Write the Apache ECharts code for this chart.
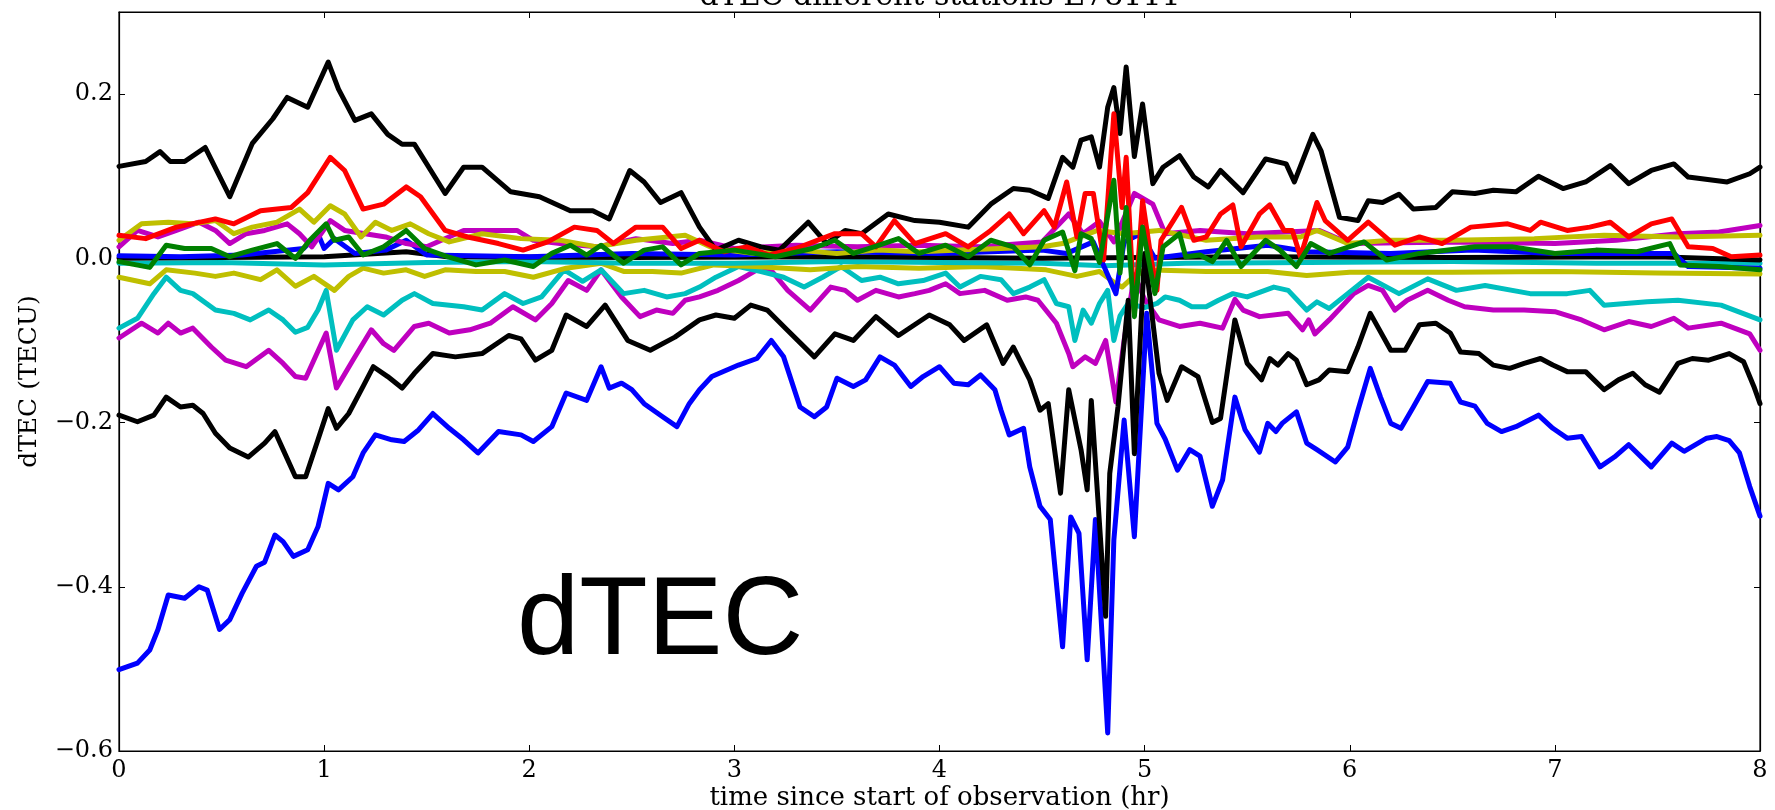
<!DOCTYPE html>
<html>
<head>
<meta charset="utf-8">
<script src="https://cdn.jsdelivr.net/npm/echarts@6/dist/echarts.min.js"></script>
<style>
  html, body { margin: 0; padding: 0; background: #fff; }
  #chart { width: 1775px; height: 810px; }
</style>
</head>
<body>
<div id="chart"></div>
<script>
// time (hr), dTEC (TECU) pairs
var xTicks = [0, 1, 2, 3, 4, 5, 6, 7, 8];
var yTicks = [-0.6, -0.4, -0.2, 0.0, 0.2];

var blueLow = [[0,-0.501],[0.09,-0.493],[0.15,-0.477],[0.19,-0.452],[0.24,-0.41],[0.32,-0.414],[0.39,-0.4],[0.43,-0.404],[0.49,-0.452],[0.54,-0.44],[0.6,-0.408],[0.67,-0.375],[0.71,-0.37],[0.76,-0.337],[0.8,-0.345],[0.85,-0.363],[0.92,-0.355],[0.97,-0.327],[1.02,-0.274],[1.07,-0.282],[1.14,-0.266],[1.19,-0.237],[1.25,-0.215],[1.33,-0.221],[1.39,-0.223],[1.46,-0.209],[1.53,-0.189],[1.61,-0.207],[1.68,-0.221],[1.75,-0.237],[1.85,-0.211],[1.96,-0.215],[2.02,-0.223],[2.11,-0.205],[2.18,-0.164],[2.28,-0.173],[2.35,-0.132],[2.39,-0.158],[2.45,-0.152],[2.5,-0.16],[2.56,-0.177],[2.65,-0.193],[2.72,-0.205],[2.78,-0.177],[2.83,-0.16],[2.89,-0.144],[3.02,-0.13],[3.11,-0.122],[3.18,-0.1],[3.24,-0.12],[3.32,-0.181],[3.39,-0.193],[3.45,-0.181],[3.5,-0.146],[3.58,-0.156],[3.64,-0.148],[3.71,-0.12],[3.78,-0.13],[3.86,-0.156],[3.92,-0.144],[4.0,-0.132],[4.07,-0.152],[4.14,-0.154],[4.2,-0.142],[4.27,-0.16],[4.3,-0.185],[4.34,-0.215],[4.41,-0.207],[4.44,-0.254],[4.49,-0.302],[4.54,-0.318],[4.6,-0.473],[4.64,-0.315],[4.68,-0.335],[4.72,-0.489],[4.76,-0.318],[4.82,-0.578],[4.85,-0.343],[4.9,-0.197],[4.95,-0.339],[5.01,-0.067],[5.06,-0.201],[5.1,-0.22],[5.16,-0.258],[5.22,-0.233],[5.27,-0.241],[5.33,-0.302],[5.38,-0.27],[5.44,-0.169],[5.49,-0.209],[5.56,-0.236],[5.6,-0.201],[5.64,-0.211],[5.67,-0.201],[5.74,-0.187],[5.79,-0.225],[5.84,-0.233],[5.93,-0.248],[5.99,-0.23],[6.04,-0.185],[6.1,-0.134],[6.15,-0.169],[6.2,-0.201],[6.25,-0.207],[6.31,-0.181],[6.38,-0.15],[6.49,-0.152],[6.54,-0.175],[6.61,-0.18],[6.67,-0.201],[6.74,-0.211],[6.81,-0.205],[6.92,-0.191],[6.99,-0.207],[7.06,-0.219],[7.13,-0.217],[7.22,-0.254],[7.29,-0.242],[7.36,-0.227],[7.47,-0.254],[7.57,-0.225],[7.63,-0.235],[7.74,-0.219],[7.79,-0.217],[7.85,-0.222],[7.9,-0.237],[7.95,-0.278],[8.0,-0.314]];

var magentaLow = [[0,-0.097],[0.11,-0.079],[0.19,-0.091],[0.24,-0.079],[0.3,-0.091],[0.36,-0.085],[0.45,-0.108],[0.52,-0.124],[0.62,-0.132],[0.73,-0.112],[0.8,-0.128],[0.86,-0.144],[0.91,-0.146],[1.01,-0.091],[1.06,-0.158],[1.14,-0.124],[1.23,-0.087],[1.29,-0.104],[1.34,-0.112],[1.44,-0.083],[1.51,-0.079],[1.61,-0.091],[1.71,-0.087],[1.81,-0.079],[1.92,-0.059],[2.03,-0.075],[2.11,-0.055],[2.19,-0.027],[2.28,-0.039],[2.35,-0.014],[2.45,-0.047],[2.54,-0.071],[2.62,-0.063],[2.7,-0.067],[2.76,-0.051],[2.83,-0.047],[2.92,-0.039],[3.02,-0.027],[3.11,-0.014],[3.17,-0.012],[3.26,-0.039],[3.37,-0.063],[3.47,-0.035],[3.54,-0.039],[3.6,-0.051],[3.69,-0.039],[3.8,-0.047],[3.88,-0.043],[3.95,-0.039],[4.03,-0.031],[4.1,-0.043],[4.22,-0.039],[4.33,-0.051],[4.42,-0.047],[4.48,-0.051],[4.57,-0.079],[4.63,-0.116],[4.65,-0.132],[4.71,-0.12],[4.76,-0.128],[4.81,-0.1],[4.86,-0.175],[4.9,-0.1],[4.95,-0.02],[5.0,-0.05],[5.07,-0.075],[5.17,-0.083],[5.27,-0.079],[5.38,-0.085],[5.44,-0.05],[5.48,-0.063],[5.56,-0.071],[5.7,-0.067],[5.77,-0.087],[5.8,-0.075],[5.83,-0.092],[5.9,-0.075],[6.02,-0.043],[6.09,-0.033],[6.16,-0.039],[6.22,-0.063],[6.28,-0.051],[6.38,-0.039],[6.48,-0.051],[6.56,-0.059],[6.7,-0.063],[6.85,-0.063],[7.0,-0.065],[7.13,-0.075],[7.24,-0.087],[7.36,-0.077],[7.47,-0.083],[7.58,-0.073],[7.65,-0.085],[7.81,-0.079],[7.95,-0.092],[8.0,-0.112]];

var cyanLow = [[0,-0.085],[0.09,-0.073],[0.17,-0.043],[0.23,-0.023],[0.3,-0.039],[0.36,-0.043],[0.47,-0.063],[0.56,-0.067],[0.64,-0.075],[0.73,-0.063],[0.8,-0.075],[0.86,-0.09],[0.92,-0.084],[0.97,-0.063],[1.01,-0.039],[1.06,-0.112],[1.14,-0.075],[1.21,-0.059],[1.29,-0.069],[1.38,-0.051],[1.44,-0.043],[1.53,-0.055],[1.68,-0.059],[1.77,-0.063],[1.88,-0.043],[1.97,-0.055],[2.06,-0.047],[2.17,-0.014],[2.26,-0.028],[2.35,-0.014],[2.46,-0.043],[2.56,-0.039],[2.67,-0.047],[2.76,-0.043],[2.83,-0.035],[2.91,-0.023],[3.02,-0.01],[3.13,-0.016],[3.24,-0.023],[3.34,-0.035],[3.43,-0.023],[3.52,-0.01],[3.62,-0.027],[3.71,-0.023],[3.8,-0.031],[3.92,-0.027],[4.03,-0.018],[4.1,-0.035],[4.2,-0.022],[4.3,-0.026],[4.36,-0.043],[4.44,-0.035],[4.51,-0.026],[4.57,-0.055],[4.63,-0.059],[4.66,-0.1],[4.7,-0.063],[4.74,-0.079],[4.78,-0.055],[4.82,-0.039],[4.85,-0.1],[4.88,-0.07],[4.92,-0.055],[5.0,-0.06],[5.06,-0.055],[5.1,-0.047],[5.17,-0.051],[5.23,-0.059],[5.3,-0.059],[5.36,-0.051],[5.43,-0.043],[5.5,-0.047],[5.63,-0.035],[5.7,-0.039],[5.79,-0.063],[5.84,-0.053],[5.9,-0.061],[5.99,-0.043],[6.09,-0.023],[6.24,-0.043],[6.38,-0.025],[6.52,-0.039],[6.66,-0.033],[6.88,-0.043],[7.06,-0.043],[7.17,-0.039],[7.24,-0.057],[7.45,-0.053],[7.6,-0.051],[7.81,-0.057],[8.0,-0.075]];

var yellowLow = [[0,-0.023],[0.15,-0.031],[0.23,-0.014],[0.37,-0.018],[0.47,-0.022],[0.56,-0.018],[0.69,-0.026],[0.77,-0.014],[0.86,-0.034],[0.95,-0.022],[1.05,-0.039],[1.12,-0.022],[1.19,-0.012],[1.29,-0.018],[1.4,-0.014],[1.49,-0.022],[1.59,-0.014],[1.74,-0.016],[1.88,-0.016],[2.02,-0.023],[2.18,-0.012],[2.35,-0.006],[2.46,-0.016],[2.6,-0.016],[2.74,-0.018],[2.9,-0.008],[3.1,-0.01],[3.37,-0.014],[3.6,-0.01],[3.9,-0.012],[4.2,-0.01],[4.52,-0.014],[4.67,-0.022],[4.78,-0.016],[4.86,-0.031],[4.89,-0.035],[4.93,-0.026],[5.0,-0.014],[5.3,-0.016],[5.6,-0.016],[5.79,-0.021],[6.0,-0.017],[6.5,-0.017],[7.0,-0.016],[7.5,-0.018],[8.0,-0.019]];

var cyanZero = [[0,-0.006],[0.5,-0.005],[1.0,-0.008],[1.5,-0.005],[2.0,-0.004],[2.5,-0.006],[3.0,-0.006],[3.5,-0.004],[4.0,-0.005],[4.5,-0.006],[4.8,-0.009],[5.2,-0.006],[5.8,-0.005],[6.5,-0.004],[7.2,-0.006],[8.0,-0.006]];

var blackZero = [[0,0.0],[0.5,0.001],[1.0,0.002],[1.4,0.008],[1.6,0.002],[2.5,0.001],[3.5,0.002],[4.5,0.0],[5.5,0.002],[6.5,0.001],[7.5,0.002],[8.0,-0.002]];

var magentaUp = [[0,0.014],[0.09,0.034],[0.19,0.026],[0.28,0.034],[0.39,0.044],[0.47,0.034],[0.54,0.018],[0.62,0.03],[0.71,0.034],[0.82,0.042],[0.88,0.03],[0.94,0.014],[1.03,0.046],[1.1,0.034],[1.2,0.03],[1.3,0.026],[1.4,0.018],[1.5,0.014],[1.68,0.034],[1.8,0.034],[1.94,0.034],[2.02,0.022],[2.15,0.018],[2.33,0.014],[2.52,0.024],[2.7,0.018],[2.83,0.022],[3.0,0.012],[3.3,0.016],[3.6,0.014],[3.9,0.016],[4.2,0.014],[4.5,0.02],[4.63,0.054],[4.7,0.03],[4.78,0.045],[4.85,0.02],[4.95,0.079],[5.04,0.066],[5.1,0.03],[5.27,0.034],[5.5,0.03],[5.85,0.034],[6.0,0.018],[6.5,0.02],[7.0,0.018],[7.3,0.022],[7.6,0.03],[7.8,0.032],[8.0,0.04]];

var yellowUp = [[0,0.022],[0.11,0.042],[0.24,0.044],[0.36,0.042],[0.47,0.046],[0.56,0.03],[0.65,0.038],[0.77,0.044],[0.88,0.06],[0.95,0.044],[1.03,0.064],[1.1,0.054],[1.18,0.026],[1.25,0.044],[1.33,0.034],[1.42,0.042],[1.51,0.03],[1.61,0.02],[1.77,0.03],[1.96,0.024],[2.15,0.022],[2.33,0.014],[2.52,0.022],[2.76,0.028],[2.9,0.012],[3.1,0.006],[3.3,0.01],[3.5,0.006],[3.7,0.01],[3.9,0.008],[4.1,0.01],[4.3,0.012],[4.5,0.014],[4.6,0.018],[4.77,0.034],[4.9,0.03],[5.07,0.034],[5.3,0.022],[5.55,0.026],[5.76,0.026],[5.84,0.034],[5.99,0.018],[6.2,0.022],[6.5,0.022],[6.9,0.024],[7.24,0.028],[7.6,0.026],[8.0,0.028]];

var blackLow = [[0,-0.191],[0.09,-0.199],[0.17,-0.191],[0.23,-0.169],[0.3,-0.181],[0.36,-0.179],[0.41,-0.189],[0.47,-0.213],[0.54,-0.231],[0.63,-0.242],[0.71,-0.225],[0.76,-0.211],[0.8,-0.233],[0.86,-0.266],[0.91,-0.266],[0.97,-0.221],[1.02,-0.183],[1.06,-0.207],[1.12,-0.189],[1.19,-0.156],[1.24,-0.132],[1.31,-0.144],[1.38,-0.158],[1.44,-0.14],[1.53,-0.116],[1.64,-0.12],[1.77,-0.116],[1.9,-0.094],[1.96,-0.098],[2.03,-0.124],[2.11,-0.112],[2.18,-0.069],[2.28,-0.083],[2.37,-0.057],[2.48,-0.1],[2.59,-0.112],[2.71,-0.096],[2.83,-0.075],[2.91,-0.069],[3.0,-0.073],[3.08,-0.057],[3.16,-0.063],[3.26,-0.088],[3.39,-0.12],[3.49,-0.092],[3.58,-0.1],[3.69,-0.071],[3.8,-0.094],[3.95,-0.069],[4.05,-0.081],[4.12,-0.1],[4.23,-0.081],[4.31,-0.128],[4.36,-0.108],[4.44,-0.148],[4.49,-0.185],[4.53,-0.177],[4.59,-0.286],[4.63,-0.16],[4.69,-0.233],[4.72,-0.282],[4.74,-0.173],[4.81,-0.436],[4.83,-0.262],[4.87,-0.181],[4.92,-0.051],[4.95,-0.238],[5.0,0.006],[5.07,-0.14],[5.11,-0.173],[5.18,-0.132],[5.26,-0.144],[5.33,-0.2],[5.37,-0.195],[5.44,-0.075],[5.5,-0.128],[5.57,-0.148],[5.61,-0.122],[5.65,-0.13],[5.7,-0.116],[5.74,-0.124],[5.79,-0.154],[5.85,-0.148],[5.9,-0.136],[5.99,-0.138],[6.04,-0.108],[6.1,-0.067],[6.2,-0.112],[6.27,-0.112],[6.34,-0.081],[6.42,-0.079],[6.49,-0.091],[6.54,-0.114],[6.63,-0.116],[6.7,-0.13],[6.78,-0.134],[6.85,-0.128],[6.93,-0.122],[6.99,-0.13],[7.06,-0.138],[7.15,-0.138],[7.24,-0.16],[7.31,-0.148],[7.38,-0.14],[7.44,-0.154],[7.51,-0.163],[7.6,-0.128],[7.67,-0.122],[7.75,-0.124],[7.85,-0.116],[7.92,-0.126],[7.97,-0.156],[8.0,-0.177]];

var blackTop = [[0,0.112],[0.13,0.118],[0.2,0.13],[0.25,0.118],[0.32,0.118],[0.42,0.135],[0.54,0.075],[0.65,0.14],[0.75,0.17],[0.82,0.196],[0.92,0.184],[1.02,0.239],[1.07,0.206],[1.15,0.168],[1.23,0.176],[1.31,0.151],[1.38,0.139],[1.44,0.139],[1.59,0.079],[1.68,0.111],[1.77,0.111],[1.91,0.081],[2.05,0.075],[2.2,0.058],[2.31,0.058],[2.39,0.048],[2.49,0.107],[2.56,0.093],[2.64,0.068],[2.74,0.08],[2.83,0.038],[2.91,0.01],[3.02,0.022],[3.13,0.014],[3.22,0.01],[3.36,0.044],[3.45,0.018],[3.54,0.034],[3.62,0.03],[3.75,0.054],[3.88,0.046],[4.0,0.044],[4.14,0.038],[4.25,0.066],[4.36,0.085],[4.44,0.083],[4.53,0.073],[4.6,0.123],[4.65,0.111],[4.69,0.144],[4.74,0.148],[4.78,0.111],[4.82,0.184],[4.85,0.208],[4.88,0.152],[4.91,0.233],[4.95,0.124],[4.99,0.188],[5.04,0.091],[5.09,0.111],[5.17,0.125],[5.24,0.099],[5.31,0.087],[5.37,0.107],[5.48,0.08],[5.59,0.121],[5.69,0.115],[5.73,0.093],[5.82,0.151],[5.86,0.131],[5.95,0.05],[6.04,0.046],[6.09,0.07],[6.16,0.068],[6.24,0.078],[6.31,0.06],[6.42,0.062],[6.5,0.081],[6.61,0.079],[6.7,0.083],[6.81,0.081],[6.92,0.1],[7.04,0.085],[7.15,0.093],[7.27,0.113],[7.36,0.091],[7.47,0.107],[7.58,0.115],[7.65,0.099],[7.84,0.093],[7.95,0.103],[8.0,0.111]];

var red = [[0,0.028],[0.13,0.024],[0.28,0.038],[0.47,0.048],[0.56,0.042],[0.69,0.058],[0.84,0.062],[0.92,0.08],[1.03,0.123],[1.1,0.107],[1.19,0.06],[1.29,0.066],[1.4,0.087],[1.47,0.075],[1.59,0.034],[1.7,0.026],[1.85,0.018],[1.97,0.01],[2.09,0.02],[2.22,0.038],[2.33,0.034],[2.41,0.018],[2.52,0.038],[2.65,0.038],[2.74,0.012],[2.83,0.022],[2.95,0.008],[3.06,0.014],[3.17,0.004],[3.3,0.012],[3.49,0.03],[3.62,0.03],[3.69,0.014],[3.78,0.046],[3.88,0.018],[4.03,0.03],[4.14,0.014],[4.25,0.034],[4.34,0.054],[4.41,0.03],[4.51,0.058],[4.56,0.038],[4.62,0.093],[4.67,0.026],[4.71,0.079],[4.75,0.079],[4.8,-0.002],[4.85,0.176],[4.89,0.062],[4.91,0.123],[4.95,-0.067],[4.99,0.07],[5.03,0.002],[5.06,-0.039],[5.08,0.022],[5.14,0.046],[5.18,0.062],[5.24,0.022],[5.3,0.026],[5.37,0.054],[5.43,0.065],[5.47,0.014],[5.56,0.054],[5.61,0.065],[5.68,0.034],[5.72,0.034],[5.76,0.002],[5.84,0.068],[5.88,0.046],[5.99,0.022],[6.09,0.044],[6.22,0.016],[6.34,0.026],[6.45,0.018],[6.59,0.038],[6.77,0.042],[6.88,0.034],[6.93,0.044],[7.06,0.034],[7.17,0.038],[7.27,0.044],[7.36,0.026],[7.47,0.042],[7.57,0.048],[7.65,0.014],[7.77,0.012],[7.86,0.002],[8.0,0.004]];

var blueZero = [[0,0.003],[0.3,0.002],[0.6,0.004],[0.9,0.012],[0.97,0.03],[1.0,0.012],[1.05,0.024],[1.15,0.006],[1.3,0.01],[1.4,0.022],[1.5,0.004],[2.0,0.002],[2.5,0.006],[3.0,0.004],[3.5,0.008],[4.0,0.006],[4.5,0.01],[4.62,0.006],[4.75,0.02],[4.86,-0.043],[4.9,0.02],[4.98,0.03],[5.05,0.0],[5.3,0.008],[5.6,0.016],[5.8,0.008],[6.2,0.006],[6.6,0.01],[7.0,0.006],[7.58,0.006],[7.65,-0.01],[8.0,-0.012]];

var green = [[0,-0.004],[0.15,-0.011],[0.23,0.016],[0.32,0.012],[0.45,0.012],[0.54,0.002],[0.65,0.01],[0.77,0.018],[0.86,0.0],[0.93,0.022],[1.01,0.042],[1.05,0.022],[1.12,0.026],[1.19,0.004],[1.29,0.014],[1.4,0.034],[1.49,0.012],[1.6,0.002],[1.74,-0.008],[1.88,-0.002],[2.02,-0.01],[2.11,0.006],[2.2,0.016],[2.28,0.004],[2.35,0.016],[2.46,-0.006],[2.56,0.01],[2.65,0.014],[2.74,-0.008],[2.83,0.006],[3.0,0.01],[3.2,0.002],[3.38,0.012],[3.49,0.022],[3.58,0.006],[3.68,0.014],[3.8,0.024],[3.9,0.006],[4.03,0.016],[4.14,0.002],[4.25,0.022],[4.36,0.014],[4.44,-0.008],[4.51,0.022],[4.6,0.032],[4.66,-0.015],[4.69,0.03],[4.74,0.024],[4.78,-0.005],[4.85,0.095],[4.88,-0.018],[4.91,0.062],[4.95,-0.071],[4.99,0.038],[5.05,-0.043],[5.09,0.014],[5.17,0.03],[5.2,0.002],[5.27,0.004],[5.33,-0.004],[5.4,0.022],[5.47,-0.01],[5.59,0.022],[5.66,0.01],[5.74,-0.01],[5.81,0.018],[5.9,0.006],[6.07,0.02],[6.18,-0.002],[6.34,0.006],[6.61,0.014],[6.79,0.014],[7.0,0.006],[7.2,0.01],[7.4,0.008],[7.56,0.018],[7.61,-0.008],[7.8,-0.01],[8.0,-0.014]];

// drawing order, first is drawn at the bottom
var lines = [
    { data: blueLow, color: '#0000ff' },
    { data: magentaLow, color: '#bf00bf' },
    { data: cyanLow, color: '#00bfbf' },
    { data: yellowLow, color: '#bfbf00' },
    { data: cyanZero, color: '#00bfbf' },
    { data: blackZero, color: '#000000' },
    { data: blueZero, color: '#0000ff' },
    { data: magentaUp, color: '#bf00bf' },
    { data: yellowUp, color: '#bfbf00' },
    { data: blackLow, color: '#000000' },
    { data: blackTop, color: '#000000' },
    { data: red, color: '#ff0000' },
    { data: green, color: '#008000' }
];

var serif = '"DejaVu Serif", serif';

var chart = echarts.init(document.getElementById('chart'));
var option = {
    animation: false,
    backgroundColor: '#ffffff',
    grid: {
        left: 119,
        right: 15,
        top: 12,
        bottom: 59,
        outerBoundsMode: 'none',
        show: true,
        borderColor: '#000',
        borderWidth: 1.2
    },
    graphic: [
        {
            type: 'text',
            x: 940,
            y: 12,
            style: {
                text: 'dTEC different stations E78111',
                font: '30px "DejaVu Serif"',
                fill: '#000',
                textAlign: 'center',
                textVerticalAlign: 'bottom'
            }
        },
        {
            type: 'text',
            x: 517,
            y: 679,
            z: 100,
            style: {
                text: 'dTEC',
                font: '112px "Liberation Sans"',
                fill: '#000',
                textAlign: 'left',
                textVerticalAlign: 'bottom'
            }
        }
    ],
    xAxis: [
        {
            type: 'value',
            min: xTicks[0],
            max: xTicks[xTicks.length - 1],
            interval: 1,
            name: 'time since start of observation (hr)',
            nameLocation: 'middle',
            nameGap: 34,
            nameMoveOverlap: false,
            nameTextStyle: { fontFamily: serif, fontSize: 26, color: '#000' },
            axisLine: { show: true, onZero: false, lineStyle: { color: '#000', width: 1.2 } },
            axisTick: { show: true, inside: true, length: 6, lineStyle: { color: '#000' } },
            axisLabel: { fontFamily: serif, fontSize: 24, color: '#000', margin: 8 },
            splitLine: { show: false }
        },
        {
            type: 'value',
            position: 'top',
            min: xTicks[0],
            max: xTicks[xTicks.length - 1],
            interval: 1,
            axisLine: { show: true, onZero: false, lineStyle: { color: '#000', width: 1.2 } },
            axisTick: { show: true, inside: true, length: 6, lineStyle: { color: '#000' } },
            axisLabel: { show: false },
            splitLine: { show: false }
        }
    ],
    yAxis: [
        {
            type: 'value',
            min: yTicks[0],
            max: 0.3,
            interval: 0.2,
            name: 'dTEC (TECU)',
            nameLocation: 'middle',
            nameGap: 77,
            nameRotate: 90,
            nameMoveOverlap: false,
            nameTextStyle: { fontFamily: serif, fontSize: 25, color: '#000' },
            axisLine: { show: true, onZero: false, lineStyle: { color: '#000', width: 1.2 } },
            axisTick: { show: true, inside: true, length: 6, lineStyle: { color: '#000' } },
            axisLabel: {
                fontFamily: serif, fontSize: 24, color: '#000', margin: 6,
                showMaxLabel: false,
                formatter: function (v) { return v.toFixed(1).replace('-', '\u2212'); }
            },
            splitLine: { show: false }
        },
        {
            type: 'value',
            position: 'right',
            min: yTicks[0],
            max: 0.3,
            interval: 0.2,
            axisLine: { show: true, onZero: false, lineStyle: { color: '#000', width: 1.2 } },
            axisTick: { show: true, inside: true, length: 6, lineStyle: { color: '#000' } },
            axisLabel: { show: false },
            splitLine: { show: false }
        }
    ],
    series: lines.map(function (l) {
        return {
            type: 'line',
            data: l.data,
            symbol: 'none',
            silent: true,
            lineStyle: { color: l.color, width: 5, join: 'round', cap: 'round' }
        };
    })
};
chart.setOption(option);
</script>
</body>
</html>
